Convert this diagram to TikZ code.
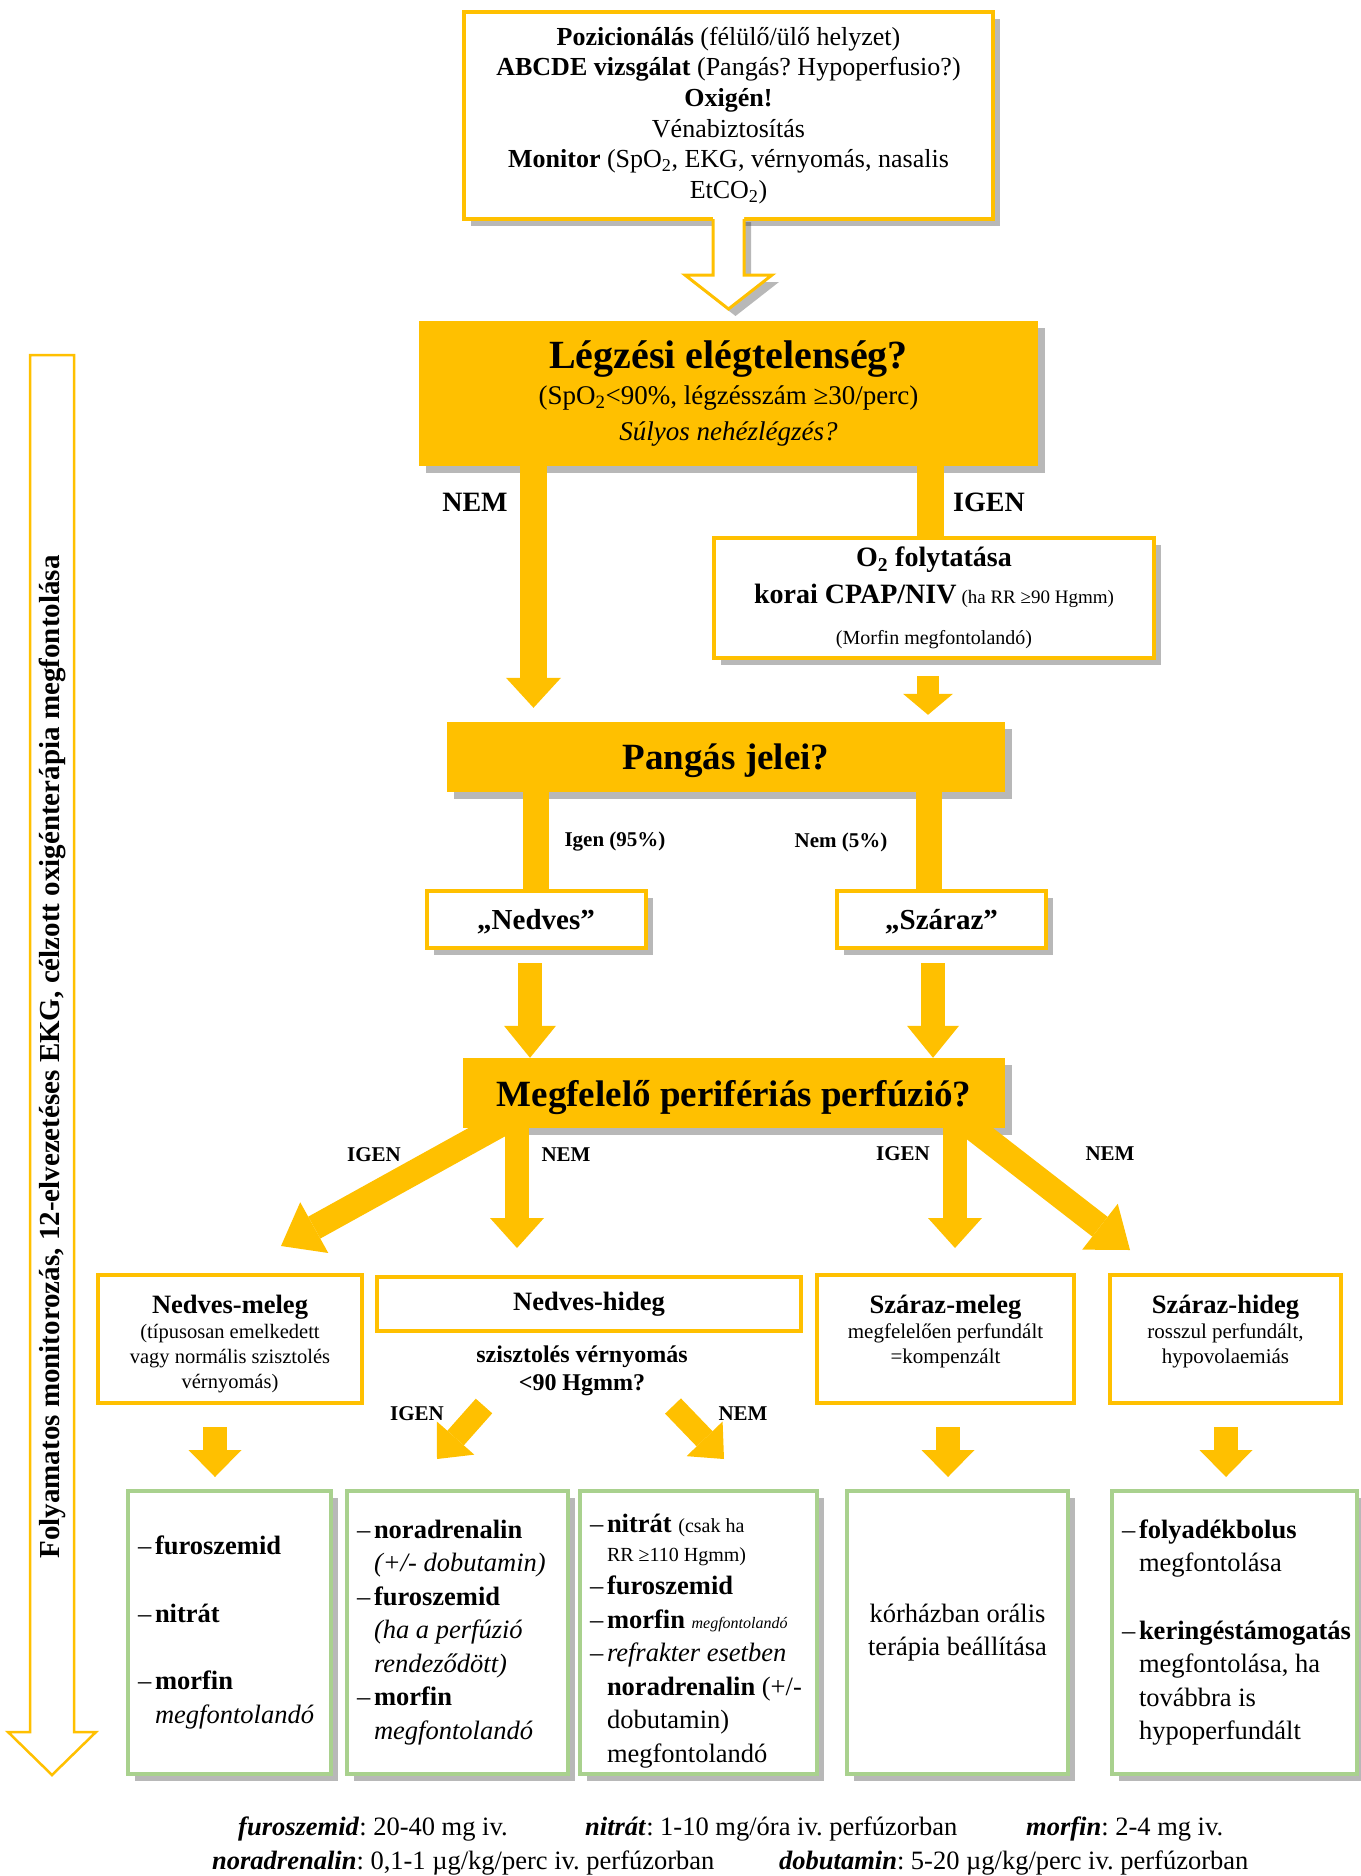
\documentclass[tikz,border=0pt]{standalone}
\usepackage{fontspec}
\setmainfont{Liberation Serif}
\usetikzlibrary{arrows.meta, shadows}

\definecolor{amber}{RGB}{255,192,0}
\definecolor{leaf}{RGB}{169,209,142}

\newcommand{\fsz}[2]{\fontsize{#1}{#2}\selectfont}
\newcommand{\dashitem}{\hspace*{6pt}\makebox[17pt][l]{–}}
\newcommand{\restitem}{\hspace*{23pt}}
\hyphenpenalty=10000
\frenchspacing

\begin{document}
\begin{tikzpicture}[x=1pt, y=-1pt,
  boxshadow/.style={drop shadow={shadow xshift=7pt, shadow yshift=-7pt, opacity=0.35, fill=black!80}},
  amberframe/.style={draw=amber, line width=4pt, fill=white, inner sep=0pt, align=center},
  amberfill/.style={fill=amber, inner sep=0pt, align=center},
  leafframe/.style={draw=leaf, line width=4.5pt, fill=white, inner xsep=4pt, inner ysep=0pt, outer sep=0pt,
    minimum height=283pt, anchor=north west, align=flush left, font=\fsz{26.5}{33.5}, boxshadow},
  branch/.style={font=\fsz{21}{24}\bfseries, inner sep=0pt},
  dose/.style={font=\fsz{26.5}{30}, inner sep=0pt, anchor=base west},
  amberbar/.style={draw=amber, line width=#1},
  amberarrow/.style n args={3}{draw=amber, line width=#1, -{Triangle[width=#2, length=#3, line width=0pt]}},
]
\useasboundingbox (0,0) rectangle (1360,1876);

% monitoring along the whole process
\draw[amber, line width=2.5pt, fill=white] (30,355) -- (74,355) -- (74,1732) -- (96,1732)
  -- (52,1775) -- (8,1732) -- (30,1732) -- cycle;
\node[rotate=90, font=\fsz{29}{32}\bfseries] (monitor) at (52,1057)
  {Folyamatos monitorozás, 12-elvezetéses EKG, célzott oxigénterápia megfontolása};

% first steps
\node[amberframe, boxshadow, minimum width=529pt, minimum height=207pt, font=\fsz{26}{30.6}] (first) at (728.5,115.5)
  {\textbf{Pozicionálás} (félülő/ülő helyzet)\\
   \textbf{ABCDE vizsgálat} (Pangás? Hypoperfusio?)\\
   \textbf{Oxigén!}\\
   Vénabiztosítás\\
   \textbf{Monitor} (SpO\textsubscript{2}, EKG, vérnyomás, nasalis\\
   EtCO\textsubscript{2})};
\fill[white, boxshadow] ([xshift=-15.5pt,yshift=6pt]first.south) -- ([xshift=-15.5pt,yshift=-54pt]first.south)
  -- ([xshift=-43.5pt,yshift=-54pt]first.south) -- ([yshift=-88pt]first.south)
  -- ([xshift=43.5pt,yshift=-54pt]first.south) -- ([xshift=15.5pt,yshift=-54pt]first.south)
  -- ([xshift=15.5pt,yshift=6pt]first.south) -- cycle;
\draw[amber, line width=3pt] ([xshift=-15.5pt,yshift=2pt]first.south) -- ([xshift=-15.5pt,yshift=-54pt]first.south)
  -- ([xshift=-43.5pt,yshift=-54pt]first.south) -- ([yshift=-88pt]first.south)
  -- ([xshift=43.5pt,yshift=-54pt]first.south) -- ([xshift=15.5pt,yshift=-54pt]first.south)
  -- ([xshift=15.5pt,yshift=2pt]first.south);

% respiratory failure
\node[amberfill, boxshadow, minimum width=619pt, minimum height=145pt, font=\fsz{27}{36}] (resp) at (728.5,393.5)
  {{\fsz{40}{44}\bfseries Légzési elégtelenség?}\\
   (SpO\textsubscript{2}<90\%, légzésszám ≥30/perc)\\
   \textit{Súlyos nehézlégzés?}};
\node[font=\fsz{28}{30}\bfseries, inner sep=0pt] (respno) at (475,502) {NEM};
\node[font=\fsz{28}{30}\bfseries, inner sep=0pt] (respyes) at (989,502) {IGEN};

\node[amberframe, boxshadow, minimum width=440pt, minimum height=120pt, font=\fsz{20}{37}] (otwo) at (934,598)
  {{\fsz{28}{37}\bfseries O\textsubscript{2} folytatása}\\
   {\fsz{28}{37}\bfseries korai CPAP/NIV} {\fsz{19}{22}(ha RR ≥90 Hgmm)}\\[4pt]
   (Morfin megfontolandó)};

% congestion
\node[amberfill, boxshadow, minimum width=558pt, minimum height=70pt, text depth=0pt, font=\fsz{37}{40}\bfseries] (cong) at (726,757)
  {Pangás jelei?};
\node[branch] (congyes) at (615,842) {Igen (95\%)};
\node[branch] (congno) at (841,842) {Nem (5\%)};
\node[amberframe, boxshadow, minimum width=219pt, minimum height=57pt, text depth=0pt, font=\fsz{29}{32}\bfseries] (wet) at (536,919.5)
  {„Nedves”};
\node[amberframe, boxshadow, minimum width=209pt, minimum height=57pt, text depth=0pt, font=\fsz{29}{32}\bfseries] (dry) at (941.5,919.5)
  {„Száraz”};

% perfusion
\node[amberfill, boxshadow, minimum width=542pt, minimum height=70pt, text depth=0pt, font=\fsz{37}{40}\bfseries] (perf) at (734,1093)
  {Megfelelő perifériás perfúzió?};
\node[branch] (perfyesl) at (374,1155) {IGEN};
\node[branch] (perfnol) at (566,1155) {NEM};
\node[branch] (perfyesr) at (903,1154) {IGEN};
\node[branch] (perfnor) at (1110,1154) {NEM};

% four profiles
\node[amberframe, minimum width=264pt, minimum height=128pt, font=\fsz{20.5}{25}] (wetwarm) at (230,1339)
  {\rule{0pt}{29pt}{\fsz{26.5}{30}\bfseries Nedves-meleg}\\
   (típusosan emelkedett\\ vagy normális szisztolés\\ vérnyomás)};
\node[amberframe, minimum width=424pt, minimum height=54pt, font=\fsz{26.5}{30}\bfseries] (wetcold) at (589,1304)
  {Nedves-hideg};
\node[amberframe, minimum width=257pt, minimum height=128pt, font=\fsz{21}{25}] (drywarm) at (945.5,1339)
  {{\fsz{26.5}{30}\bfseries Száraz-meleg}\\
   megfelelően perfundált\\ =kompenzált\rule[-20pt]{0pt}{1pt}};
\node[amberframe, minimum width=231pt, minimum height=128pt, font=\fsz{21}{25}] (drycold) at (1225.5,1339)
  {{\fsz{26.5}{30}\bfseries Száraz-hideg}\\
   rosszul perfundált,\\ hypovolaemiás\rule[-20pt]{0pt}{1pt}};
\node[font=\fsz{24}{28}\bfseries, align=center, inner sep=0pt] (sbp) at (582,1371)
  {szisztolés vérnyomás\\ <90 Hgmm?};
\node[branch] (sbpyes) at (417,1414) {IGEN};
\node[branch] (sbpno) at (743,1414) {NEM};

% therapy
\node[leafframe, text width=195pt] (gone) at (128,1491)
  {\dashitem\textbf{furoszemid}\\[34pt]
   \dashitem\textbf{nitrát}\\[34pt]
   \dashitem\textbf{morfin}\\
   \restitem\textit{megfontolandó}};
\node[leafframe, text width=213pt] (gtwo) at (347,1491)
  {\dashitem\textbf{noradrenalin}\\
   \restitem\textit{(+/- dobutamin)}\\
   \dashitem\textbf{furoszemid}\\
   \restitem\textit{(ha a perfúzió}\\
   \restitem\textit{rendeződött)}\\
   \dashitem\textbf{morfin}\\
   \restitem\textit{megfontolandó}};
\node[leafframe, text width=229pt] (gthree) at (580,1491)
  {\rule{0pt}{36pt}\dashitem\textbf{nitrát} {\fsz{20}{24}(csak ha}\\[-5pt]
   \restitem{\fsz{20}{24}RR ≥110 Hgmm)}\\
   \dashitem\textbf{furoszemid}\\
   \dashitem\textbf{morfin} {\fsz{16}{20}\itshape megfontolandó}\\
   \dashitem\textit{refrakter esetben}\\
   \restitem\textbf{noradrenalin} (+/-\\
   \restitem dobutamin)\\
   \restitem megfontolandó};
\node[leafframe, text width=213pt, align=flush center] (gfour) at (847,1491)
  {kórházban orális\\ terápia beállítása};
\node[leafframe, text width=237pt] (gfive) at (1112,1491)
  {\dashitem\textbf{folyadékbolus}\\
   \restitem megfontolása\\[34pt]
   \dashitem\textbf{keringéstámogatás}\\
   \restitem megfontolása, ha\\
   \restitem továbbra is\\
   \restitem hypoperfundált};

% connectors
\draw[amberarrow={27pt}{55pt}{30pt}] ([xshift=-195pt]resp.south) -- ([xshift=-192.5pt,yshift=14pt]cong.north);
\draw[amberbar=27pt] ([xshift=202pt]resp.south) -- ([xshift=-3.5pt]otwo.north);
\draw[amberarrow={22pt}{50pt}{21pt}] ([xshift=-6pt,yshift=-16pt]otwo.south) -- ([xshift=202pt,yshift=7pt]cong.north);
\draw[amberbar=26pt] ([xshift=-190pt]cong.south) -- (wet.north);
\draw[amberbar=26pt] ([xshift=203pt]cong.south) -- ([xshift=-12.5pt]dry.north);
\draw[amberarrow={24pt}{52pt}{32pt}] ([xshift=-6pt,yshift=-13pt]wet.south) -- ([xshift=-204pt]perf.north);
\draw[amberarrow={24pt}{52pt}{32pt}] ([xshift=-8.5pt,yshift=-13pt]dry.south) -- ([xshift=199pt]perf.north);

\begin{scope}
\clip ([xshift=-700pt]perf.south) rectangle ([xshift=700pt,yshift=-200pt]perf.south);
\draw[amberarrow={25pt}{58pt}{38pt}] ([xshift=-222pt,yshift=10pt]perf.south) -- ([xshift=51pt,yshift=27pt]wetwarm.north);
\draw[amberarrow={24pt}{54pt}{30pt}] ([xshift=-217pt]perf.south) -- ([xshift=-72pt,yshift=27pt]wetcold.north);
\draw[amberarrow={24pt}{54pt}{30pt}] ([xshift=221pt]perf.south) -- ([xshift=9.5pt,yshift=25pt]drywarm.north);
\draw[amberarrow={25pt}{58pt}{38pt}] ([xshift=226pt,yshift=10pt]perf.south) -- ([xshift=-95.5pt,yshift=23pt]drycold.north);
\end{scope}

\draw[amberarrow={22pt}{50pt}{28pt}] ([xshift=-98pt,yshift=-35pt]sbp.center) -- ([xshift=-20.5pt,yshift=32pt]gtwo.north);
\draw[amberarrow={22pt}{50pt}{28pt}] ([xshift=91pt,yshift=-35pt]sbp.center) -- ([xshift=25.5pt,yshift=32pt]gthree.north);
\draw[amberarrow={24pt}{53pt}{27pt}] ([xshift=-15pt,yshift=-22pt]wetwarm.south) -- ([xshift=-14.5pt,yshift=14pt]gone.north);
\draw[amberarrow={24pt}{53pt}{27pt}] ([xshift=2.5pt,yshift=-22pt]drywarm.south) -- ([xshift=-9.5pt,yshift=14pt]gfour.north);
\draw[amberarrow={24pt}{53pt}{27pt}] ([xshift=0.5pt,yshift=-22pt]drycold.south) -- ([xshift=-8.5pt,yshift=14pt]gfive.north);

% doses
\node[dose] (dfuro) at (238,1835) {\textbf{\textit{furoszemid}}: 20-40 mg iv.};
\node[dose] (dnitr) at (585,1835) {\textbf{\textit{nitrát}}: 1-10 mg/óra iv. perfúzorban};
\node[dose] (dmorf) at (1026,1835) {\textbf{\textit{morfin}}: 2-4 mg iv.};
\node[dose] (dnora) at (212,1869) {\textbf{\textit{noradrenalin}}: 0,1-1 µg/kg/perc iv. perfúzorban};
\node[dose] (ddobu) at (779,1869) {\textbf{\textit{dobutamin}}: 5-20 µg/kg/perc iv. perfúzorban};

\end{tikzpicture}
\end{document}
